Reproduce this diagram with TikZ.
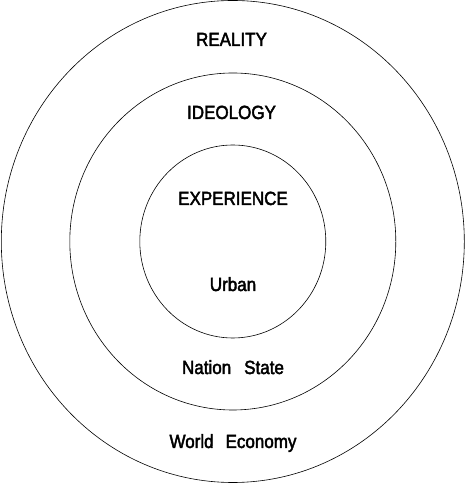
\documentclass[tikz,border=0pt]{standalone}
\usepackage{fontspec}
\setmainfont{Liberation Sans}
\newfontfamily\lettering{Liberation Sans}[FakeBold=2.5]
\begin{document}
\begin{tikzpicture}[x=1pt,y=1pt,
  ring/.style={draw=black,line width=0.6pt},
  lbl/.style={font=\lettering\fontsize{17}{20}\selectfont,anchor=base,inner sep=0pt}]
\useasboundingbox (0,0) rectangle (465,484);
\fill[white] (0,0) rectangle (465,484);
\coordinate (c) at (232.8,242.5);
\draw[ring] (c) ellipse [x radius=231.5, y radius=241];
\draw[ring] (c) ellipse [x radius=163, y radius=168.5];
\draw[ring] (c) ellipse [x radius=93, y radius=96.5];
\newcommand{\tallish}[1]{\scalebox{1}[1.12]{#1}}
\node[lbl] (reality) at (231.5,438) {\tallish{REALITY}};
\node[lbl] (ideology) at (231.5,365) {\tallish{IDEOLOGY}};
\node[lbl] (experience) at (233,279) {\tallish{EXPERIENCE}};
\node[lbl] (urban) at (233,193) {\tallish{Urban}};
\node[lbl] (nation) at (233,110) {\tallish{Nation\hspace{13pt}State}};
\node[lbl] (world) at (233,36) {\tallish{World\hspace{12pt}Economy}};
\end{tikzpicture}
\end{document}
